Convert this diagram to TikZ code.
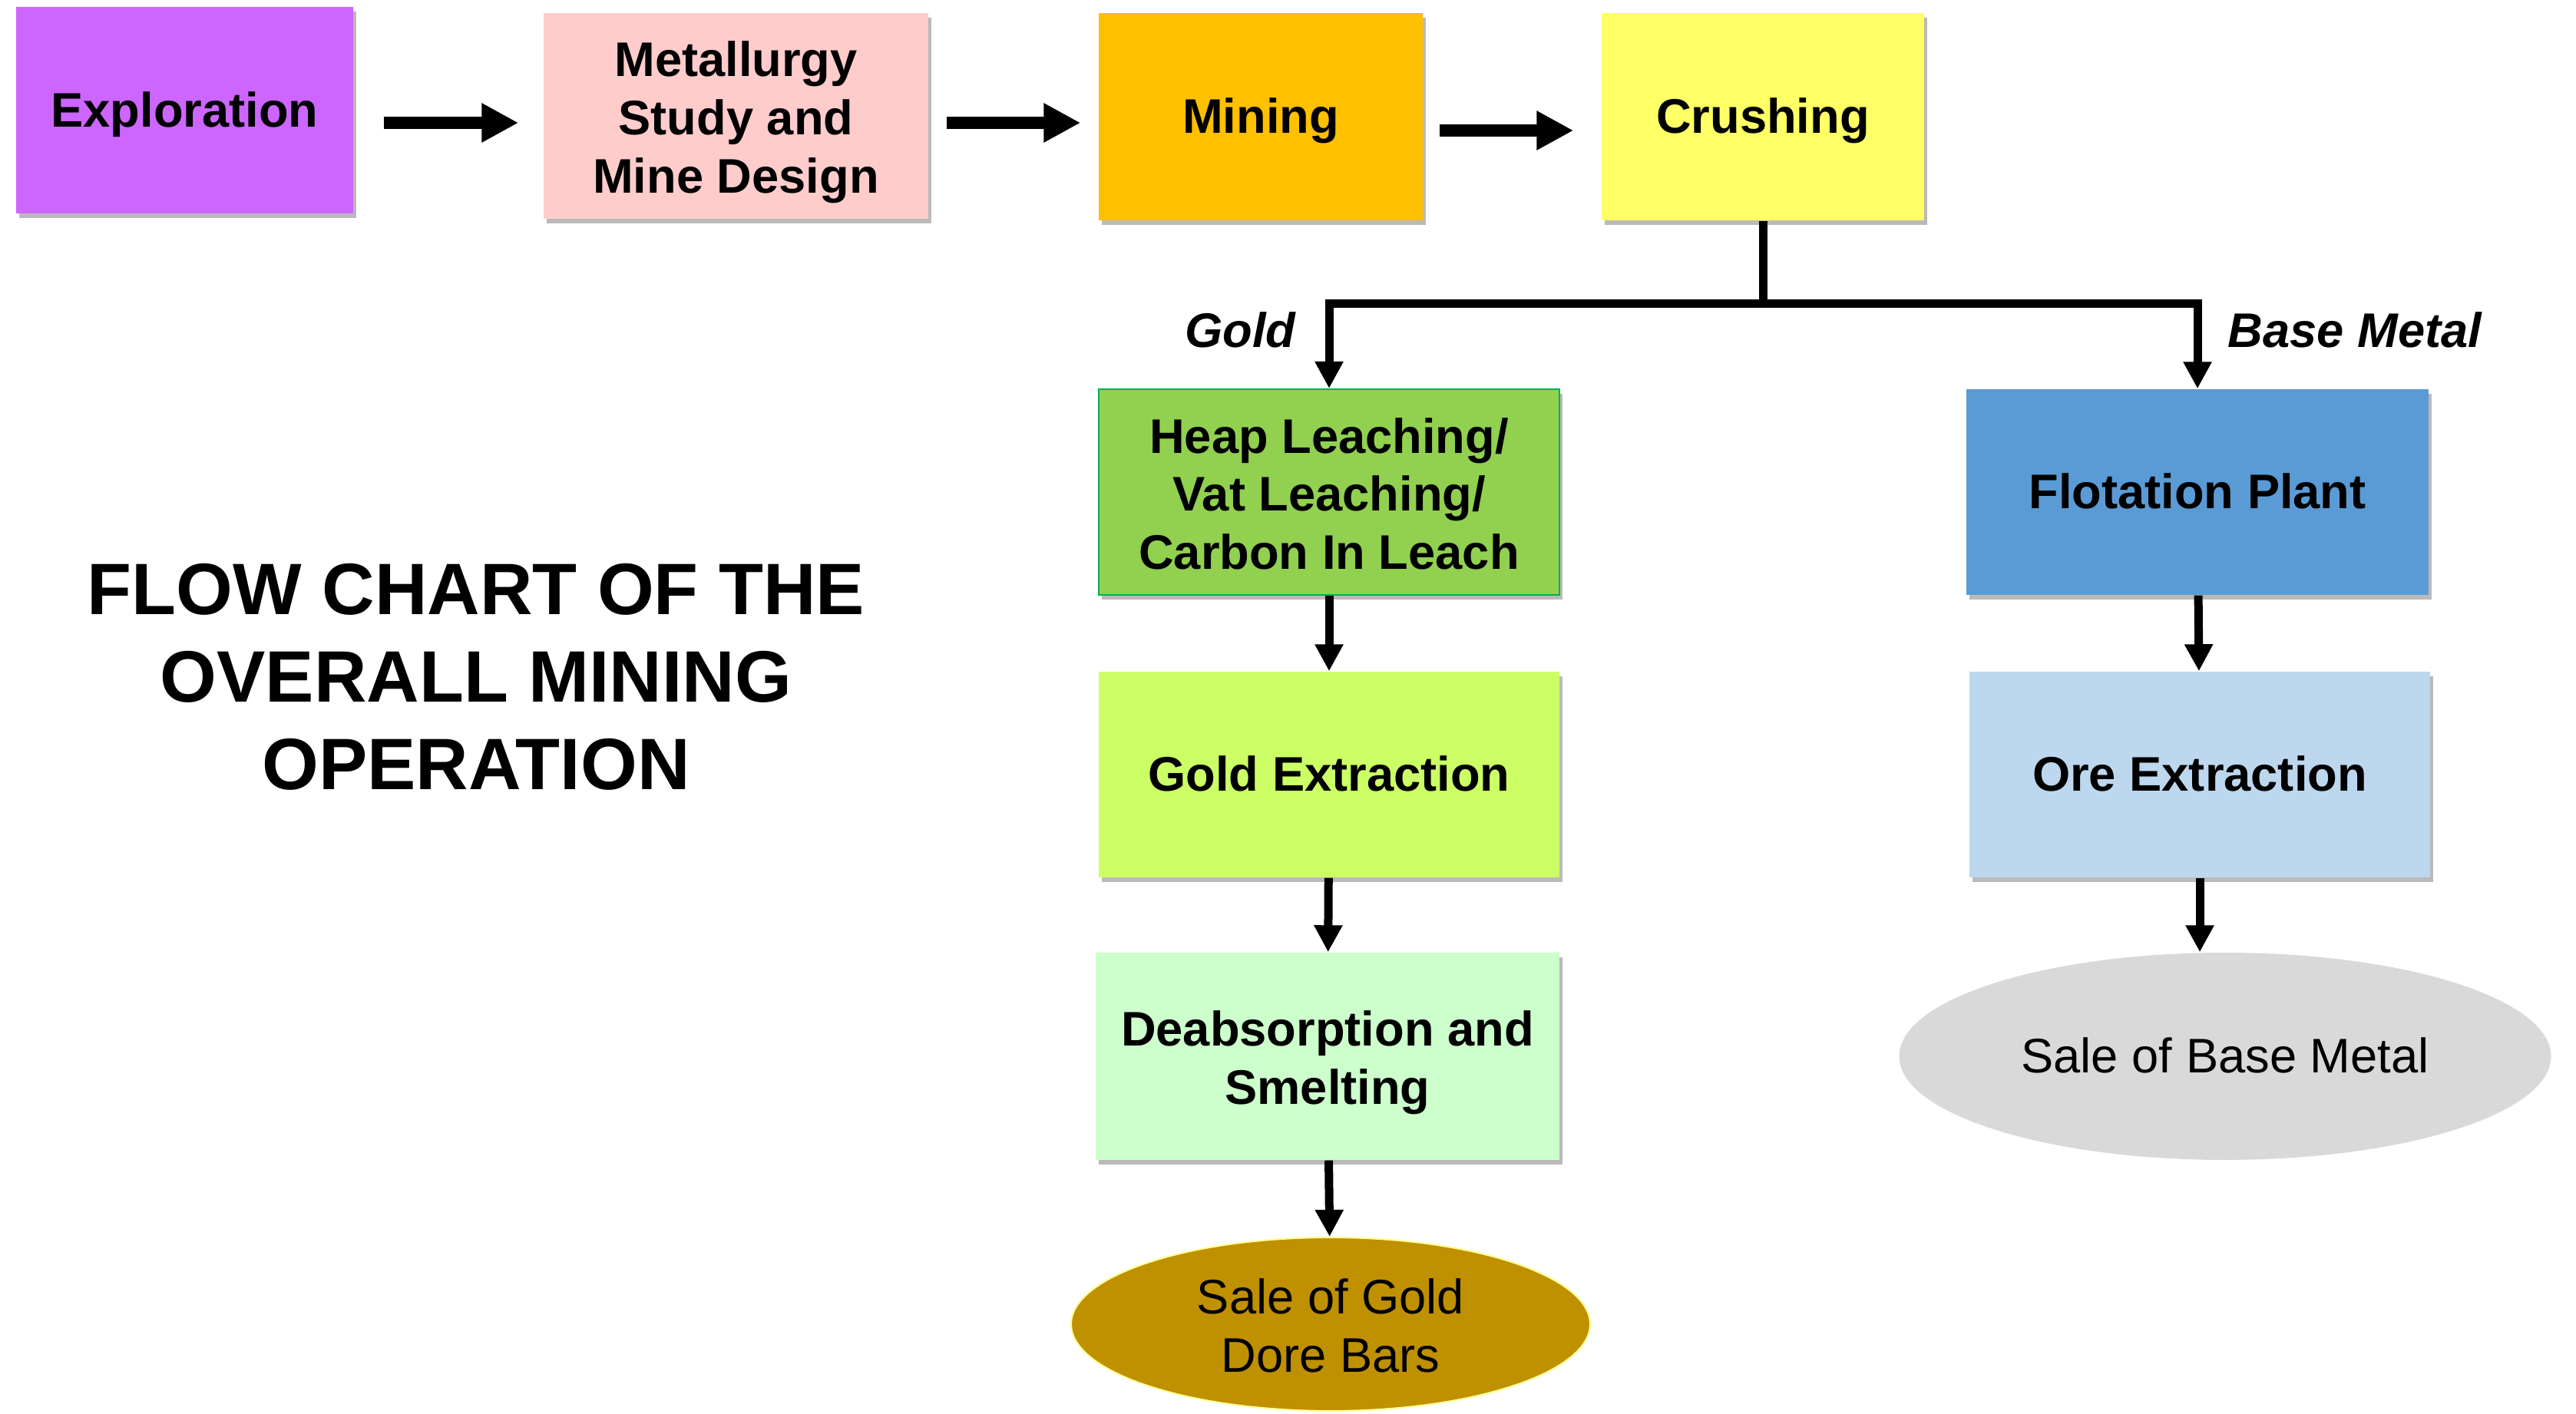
\documentclass[tikz,border=0pt]{standalone}
\usepackage{fontspec}
\setmainfont{Liberation Sans}
\usetikzlibrary{arrows.meta,shapes.geometric,shadows}

\definecolor{explcol}{HTML}{CC66FF}
\definecolor{metalcol}{HTML}{FFCCCC}
\definecolor{minecol}{HTML}{FFC000}
\definecolor{crushcol}{HTML}{FFFF66}
\definecolor{heapcol}{HTML}{92D050}
\definecolor{heapbord}{HTML}{00B050}
\definecolor{goldxcol}{HTML}{CCFF66}
\definecolor{deabscol}{HTML}{CCFFCC}
\definecolor{salegcol}{HTML}{BF9000}
\definecolor{salegbord}{HTML}{FFFF99}
\definecolor{flotcol}{HTML}{5B9BD5}
\definecolor{orecol}{HTML}{BDD7EE}
\definecolor{salebcol}{HTML}{D9D9D9}

\newcommand\lignestrut{\rule[-0.212em]{0pt}{1.117em}}
\newcommand\hautligne{\rule{0pt}{1.0em}}

\tikzset{
  etape/.style={rectangle,inner sep=0pt,align=center,
    font=\bfseries\fontsize{18}{21.6}\selectfont,
    execute at begin node=\lignestrut,execute at end node=\lignestrut,
    drop shadow={shadow xshift=0.04cm,shadow yshift=-0.06cm,fill=black!45,opacity=0.6}},
  vente/.style={ellipse,inner sep=0pt,align=center,font=\fontsize{18}{21.6}\selectfont,
    execute at begin node=\lignestrut,execute at end node=\lignestrut},
  etiq/.style={inner sep=0pt,font=\bfseries\itshape\fontsize{18}{21.6}\selectfont},
  fleche/.style={-{Triangle[length=0.48cm,width=0.48cm]},line width=0.16cm},
  fin/.style={-{Triangle[length=0.35cm,width=0.35cm]},line width=0.11cm},
}

\begin{document}
\begin{tikzpicture}
\useasboundingbox (0,0) rectangle (33.55,18.41);

% la ligne du haut
\node[etape,fill=explcol,minimum width=4.39cm,minimum height=2.69cm] (explo) at (2.405,16.975) {Exploration};
\node[etape,fill=metalcol,minimum width=5.01cm,minimum height=2.68cm] (metal) at (9.585,16.90) {\hautligne Metallurgy\\Study and\\Mine Design};
\node[etape,fill=minecol,minimum width=4.22cm,minimum height=2.70cm] (mine) at (16.42,16.89) {Mining};
\node[etape,fill=crushcol,minimum width=4.20cm,minimum height=2.70cm] (crush) at (22.96,16.89) {Crushing};

\draw[fleche,shorten <=0.39cm,shorten >=0.32cm] ([yshift=-0.165cm]explo.east) -- ([yshift=-0.165cm]explo.east -| metal.west);
\draw[fleche,shorten <=0.23cm,shorten >=0.23cm] ([yshift=-0.09cm]metal.east) -- ([yshift=-0.09cm]metal.east -| mine.west);
\draw[fleche,shorten <=0.21cm,shorten >=0.36cm] ([yshift=-0.18cm]mine.east) -- ([yshift=-0.18cm]mine.east -| crush.west);

% branche or
\node[etape,fill=heapcol,draw=heapbord,line width=0.6pt,minimum width=6.00cm,minimum height=2.68cm] (heap) at (17.31,12.00) {\hautligne Heap Leaching/\\Vat Leaching/\\Carbon In Leach};
\node[etape,fill=goldxcol,minimum width=6.00cm,minimum height=2.68cm] (goldx) at (17.31,8.32) {Gold Extraction};
\node[etape,fill=deabscol,minimum width=6.04cm,minimum height=2.70cm] (deabs) at (17.29,4.65) {\hautligne Deabsorption and\\Smelting};
\node[vente,fill=salegcol,draw=salegbord,line width=0.6pt,minimum width=6.76cm,minimum height=2.26cm] (saleg) at (17.33,1.16) {\hautligne Sale of Gold\\Dore Bars};

% branche metal de base
\node[etape,fill=flotcol,minimum width=6.02cm,minimum height=2.68cm] (flot) at (28.62,12.00) {Flotation Plant};
\node[etape,fill=orecol,minimum width=6.00cm,minimum height=2.68cm] (ore) at (28.65,8.32) {Ore Extraction};
\node[vente,fill=salebcol,minimum width=8.49cm,minimum height=2.70cm] (saleb) at (28.98,4.65) {Sale of Base Metal};

\coordinate (noeud) at (22.94,14.45);
\draw[line width=0.11cm] (crush.south) -- (crush.south |- noeud);
\draw[line width=0.11cm,{Triangle[length=0.35cm,width=0.35cm]}-{Triangle[length=0.35cm,width=0.35cm]}] (heap.north) |- (crush.south |- noeud) -| (flot.north);

\node[etiq,anchor=east] (orlab) at (16.88,14.11) {Gold};
\node[etiq,anchor=west] (baselab) at (29.01,14.11) {Base Metal};

\draw[fin] (heap) -- (goldx);
\draw[fin] (goldx) -- (deabs);
\draw[fin] (deabs) -- (saleg);
\draw[fin] (flot) -- (ore);
\draw[fin] (ore.south) -- (ore.south |- saleb.north);

\node[align=center,font=\bfseries\fontsize{27}{32.4}\selectfont] (titre) at (6.20,9.59) {FLOW CHART OF THE\\OVERALL MINING\\OPERATION};
\end{tikzpicture}
\end{document}
